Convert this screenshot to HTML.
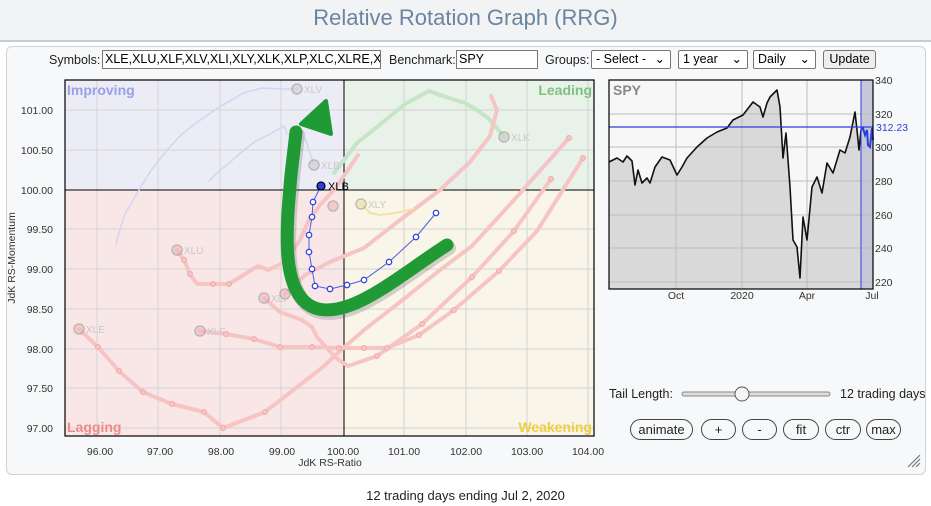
<!DOCTYPE html>
<html><head><meta charset="utf-8"><style>
body{margin:0;width:931px;height:506px;background:#fff;font-family:"Liberation Sans",sans-serif;overflow:hidden;position:relative}
.hdr{position:absolute;left:0;top:0;width:931px;height:40px;background:#f1f3f5;border-bottom:2px solid #c5ced6}
.hdr div{position:absolute;left:0;right:0;top:5px;text-align:center;font-size:22px;color:#6a85a0}
.panel{position:absolute;left:6px;top:46px;width:918px;height:427px;background:#f7f8f9;border:1px solid #cfd3d7;border-radius:6px}
.t{position:absolute;font-size:12.5px;color:#222;white-space:nowrap}
.inp{position:absolute;border:1px solid #777;background:#fff;font-size:12.5px;line-height:17px;padding-left:2px;overflow:hidden;white-space:nowrap;box-sizing:border-box;height:19px}
.sel{position:absolute;height:19px;border:1px solid #777;background:#fff;font-size:12.5px;line-height:17px;padding-left:4px;box-sizing:border-box;border-radius:2px}
.btn{position:absolute;height:21px;border:1px solid #444;border-radius:11px;background:#f7f8f9;font-size:13px;text-align:center;line-height:20px;box-sizing:border-box;color:#222}
</style></head><body>
<div class="hdr"><div>Relative Rotation Graph (RRG)</div></div>
<div class="panel"></div>
<div class="t" style="left:49px;top:53px">Symbols:</div>
<div class="inp" style="left:102px;top:50px;width:279px">XLE,XLU,XLF,XLV,XLI,XLY,XLK,XLP,XLC,XLRE,XL</div>
<div class="t" style="left:389px;top:53px">Benchmark:</div>
<div class="inp" style="left:456px;top:50px;width:82px">SPY</div>
<div class="t" style="left:545px;top:53px">Groups:</div>
<div class="sel" style="left:591px;top:50px;width:80px">- Select - <span style="float:right;margin-right:5px">⌄</span></div>
<div class="sel" style="left:678px;top:50px;width:70px">1 year <span style="float:right;margin-right:5px">⌄</span></div>
<div class="sel" style="left:753px;top:50px;width:63px">Daily <span style="float:right;margin-right:5px">⌄</span></div>
<div class="sel" style="left:823px;top:50px;width:53px;background:#eee;border-radius:3px;text-align:center;padding:0">Update</div>

<svg style="position:absolute;left:0;top:0" width="931" height="506">
<rect x="65" y="80" width="279" height="110" fill="#ececf7"/>
<rect x="344" y="80" width="250" height="110" fill="#e8f2e9"/>
<rect x="65" y="190" width="279" height="246" fill="#f9e7e8"/>
<rect x="344" y="190" width="250" height="246" fill="#f9f6e9"/>
<g stroke="#d3d3d3" stroke-width="1">
<line x1="97" y1="80" x2="97" y2="436"/><line x1="158" y1="80" x2="158" y2="436"/><line x1="220" y1="80" x2="220" y2="436"/><line x1="281" y1="80" x2="281" y2="436"/><line x1="404" y1="80" x2="404" y2="436"/><line x1="466" y1="80" x2="466" y2="436"/><line x1="527" y1="80" x2="527" y2="436"/><line x1="588" y1="80" x2="588" y2="436"/>
<line x1="65" y1="110" x2="594" y2="110"/><line x1="65" y1="150" x2="594" y2="150"/><line x1="65" y1="229" x2="594" y2="229"/><line x1="65" y1="269" x2="594" y2="269"/><line x1="65" y1="309" x2="594" y2="309"/><line x1="65" y1="349" x2="594" y2="349"/><line x1="65" y1="388" x2="594" y2="388"/><line x1="65" y1="428" x2="594" y2="428"/>
</g>
<line x1="344" y1="80" x2="344" y2="436" stroke="#000"/>
<line x1="65" y1="190" x2="594" y2="190" stroke="#000"/>
<rect x="65" y="80" width="529" height="356" fill="none" stroke="#000" stroke-width="1.2"/>
<g font-size="14" font-weight="bold">
<text x="67" y="95" fill="#9aa0e6">Improving</text>
<text x="592" y="95" fill="#7cc27e" text-anchor="end">Leading</text>
<text x="67" y="432" fill="#f08a8a">Lagging</text>
<text x="592" y="432" fill="#f0cc40" text-anchor="end">Weakening</text>
</g>
<g font-size="10.5" fill="#333" text-anchor="end">
<text x="53" y="114">101.00</text><text x="53" y="154">100.50</text><text x="53" y="194">100.00</text><text x="53" y="233">99.50</text><text x="53" y="273">99.00</text><text x="53" y="313">98.50</text><text x="53" y="353">98.00</text><text x="53" y="392">97.50</text><text x="53" y="432">97.00</text>
</g>
<g font-size="10.5" fill="#333" text-anchor="middle">
<text x="100" y="455">96.00</text><text x="160" y="455">97.00</text><text x="221" y="455">98.00</text><text x="282" y="455">99.00</text><text x="343" y="455">100.00</text><text x="404" y="455">101.00</text><text x="466" y="455">102.00</text><text x="527" y="455">103.00</text><text x="588" y="455">104.00</text>
<text x="330" y="466">JdK RS-Ratio</text>
</g>
<text x="0" y="0" font-size="10.5" fill="#333" text-anchor="middle" transform="translate(15,258) rotate(-90)">JdK RS-Momentum</text>

<g fill="none" stroke-linecap="round" stroke-linejoin="round">
<polyline stroke="#d4d4f2" stroke-width="1.5" points="116,244 120,229 125,214 139,190 150,172 167,150 181,135 196,123 218,108 243,93 262,88 280,89 297,89"/>
<polyline stroke="#d4d4f2" stroke-width="1.5" points="209,181 217,173 229,163 244,150 256,141 268,135 284,126 287,134 296,136 305,138 314,165"/>
<polyline stroke="#c6e4c6" stroke-width="4" points="334,173 357,143 377,127 405,104 429,91 440,95 452,99 465,103 477,110 488,118 496,127 504,137"/>
<g stroke="#f7c4c4" stroke-width="4">
<polyline points="79,329 98,347 119,371 143,392 172,404 204,412 223,428 265,412 323,367 341,350 364,330 400,302 440,270 472,246 514,200 569,138"/>
<polyline points="200,331 226,334 254,339 280,347 312,347 339,348 364,348 387,348 419,335 454,310 499,271 537,231 583,158"/>
<polyline points="264,298 280,312 302,320 312,327 317,337 336,358 348,366 377,356 422,324 472,277 514,231 551,179"/>
<polyline points="177,250 184,260 190,274 197,284 213,284 229,284 258,266 268,270 285,262 300,240 309,220 320,205 334,190 348,170 358,155"/>
<polyline points="285,294 305,275 330,262 364,248 400,220 440,190 470,162 490,136 497,110 491,96"/>
</g>
<polyline stroke="#f3e3a0" stroke-width="2" points="361,204 370,213 380,215 395,213 413,209"/>
</g>
<g fill="none" stroke="#f3a8a8" stroke-width="1">
<circle cx="98" cy="347" r="2.5"/><circle cx="119" cy="371" r="2.5"/><circle cx="143" cy="392" r="2.5"/><circle cx="172" cy="404" r="2.5"/><circle cx="204" cy="412" r="2.5"/><circle cx="223" cy="428" r="2.5"/><circle cx="265" cy="412" r="2.5"/><circle cx="226" cy="334" r="2.5"/><circle cx="254" cy="339" r="2.5"/><circle cx="280" cy="347" r="2.5"/><circle cx="312" cy="347" r="2.5"/><circle cx="339" cy="348" r="2.5"/><circle cx="364" cy="348" r="2.5"/><circle cx="387" cy="348" r="2.5"/><circle cx="419" cy="335" r="2.5"/><circle cx="454" cy="310" r="2.5"/><circle cx="499" cy="271" r="2.5"/><circle cx="184" cy="260" r="2.5"/><circle cx="190" cy="274" r="2.5"/><circle cx="213" cy="284" r="2.5"/><circle cx="229" cy="284" r="2.5"/><circle cx="377" cy="356" r="2.5"/><circle cx="422" cy="324" r="2.5"/><circle cx="472" cy="277" r="2.5"/><circle cx="514" cy="231" r="2.5"/><circle cx="551" cy="179" r="2.5"/><circle cx="569" cy="138" r="2.5"/><circle cx="583" cy="158" r="2.5"/>
</g>
<g fill="none" stroke="#999" stroke-width="1.5" opacity="0.6">
<circle cx="297" cy="89" r="5" fill="#ccc"/><circle cx="314" cy="165" r="5" fill="#ccc"/><circle cx="504" cy="137" r="5" fill="#ccc"/>
<circle cx="79" cy="329" r="5" fill="#f3b8b8"/><circle cx="200" cy="331" r="5" fill="#f3b8b8"/><circle cx="177" cy="250" r="5" fill="#f3b8b8"/><circle cx="264" cy="298" r="5" fill="#f3b8b8"/><circle cx="285" cy="294" r="5" fill="#f3b8b8"/><circle cx="333" cy="206" r="5" fill="#f3b8b8"/><circle cx="361" cy="204" r="5" fill="#f0e0a0"/>
</g>
<g font-size="10" fill="#c8c8c8">
<text x="304" y="93">XLV</text><text x="321" y="169">XLB</text><text x="511" y="141">XLK</text><text x="86" y="333">XLE</text><text x="207" y="335">XLF</text><text x="184" y="254">XLU</text><text x="271" y="302">XLI</text><text x="292" y="298">RE</text><text x="368" y="208">XLY</text>
</g>
<polyline fill="none" stroke="#4a5de0" stroke-width="1" points="321,186 313,202 312,217 309,235 309,252 312,269 315,286 330,289 347,285 364,280 389,262 416,237 436,213"/>
<g fill="#fff" stroke="#3346e0" stroke-width="1.3">
<circle cx="313" cy="202" r="2.7"/><circle cx="312" cy="217" r="2.7"/><circle cx="309" cy="235" r="2.7"/><circle cx="309" cy="252" r="2.7"/><circle cx="312" cy="269" r="2.7"/><circle cx="315" cy="286" r="2.7"/><circle cx="330" cy="289" r="2.7"/><circle cx="347" cy="285" r="2.7"/><circle cx="364" cy="280" r="2.7"/><circle cx="389" cy="262" r="2.7"/><circle cx="416" cy="237" r="2.7"/><circle cx="436" cy="213" r="2.7"/>
</g>
<circle cx="321" cy="186" r="4" fill="#2b3ee0" stroke="#000" stroke-width="1.2"/>
<text x="328" y="190" font-size="11" fill="#000">XLB</text>
<path d="M447,245 C400,275 350,320 315,308 C280,295 286,230 291,175 L296,132" fill="none" stroke="#5a5a5a" stroke-opacity="0.25" stroke-width="14" stroke-linecap="round" transform="translate(2,3)"/>
<path d="M447,245 C400,275 350,320 315,308 C280,295 286,230 291,175 L296,132" fill="none" stroke="#1f9a35" stroke-width="13" stroke-linecap="round"/>
<polygon points="326,101 301,124 331,134" fill="#1f9a35" stroke="#1f9a35" stroke-width="4" stroke-linejoin="round"/>

<rect x="609" y="80" width="252" height="209" fill="#f7f7f7"/>
<path d="M609,162 L617,158 623,162 627,156 632,161 635,185 638,170 642,183 647,178 650,183 655,167 662,157 670,160 677,175 682,167 687,158 697,147 707,138 717,132 727,128 733,120 743,115 753,102 760,107 763,117 767,103 770,97 777,90 780,107 783,158 786,133 790,187 793,240 797,247 800,278 803,217 807,240 812,187 817,177 822,193 827,163 833,173 840,150 845,153 850,137 855,112 857,130 859,150 863,130 868,133 870,147 873,130 L873,289 L609,289 Z" fill="#d9d9d9"/>
<rect x="861" y="80" width="12" height="209" fill="#c6c8d8"/>
<g stroke="#bdbdbd" stroke-width="1">
<line x1="676" y1="80" x2="676" y2="289"/><line x1="742" y1="80" x2="742" y2="289"/><line x1="807" y1="80" x2="807" y2="289"/>
<line x1="609" y1="114" x2="873" y2="114"/><line x1="609" y1="147" x2="873" y2="147"/><line x1="609" y1="181" x2="873" y2="181"/><line x1="609" y1="215" x2="873" y2="215"/><line x1="609" y1="248" x2="873" y2="248"/><line x1="609" y1="282" x2="873" y2="282"/>
</g>
<polyline fill="none" stroke="#111" stroke-width="1.6" stroke-linejoin="round" points="609,162 617,158 623,162 627,156 632,161 635,185 638,170 642,183 647,178 650,183 655,167 662,157 670,160 677,175 682,167 687,158 697,147 707,138 717,132 727,128 733,120 743,115 753,102 760,107 763,117 767,103 770,97 777,90 780,107 783,158 786,133 790,187 793,240 797,247 800,278 803,217 807,240 812,187 817,177 822,193 827,163 833,173 840,150 845,153 850,137 855,112 857,130 859,150 861,130"/>
<polyline fill="none" stroke="#2b3ee0" stroke-width="2" points="861,130 863,128 865,135 867,130 868,145 870,147 872,128 873,140"/>
<line x1="609" y1="127" x2="873" y2="127" stroke="#2b3ee0" stroke-width="1.2"/>
<line x1="861" y1="80" x2="861" y2="289" stroke="#2b3ee0" stroke-width="1"/>
<rect x="609" y="80" width="264" height="209" fill="none" stroke="#000" stroke-width="1.2"/>
<text x="613" y="95" font-size="14" font-weight="bold" fill="#888">SPY</text>
<g font-size="10.5" fill="#333">
<text x="875" y="84">340</text><text x="875" y="118">320</text><text x="875" y="151">300</text><text x="875" y="185">280</text><text x="875" y="219">260</text><text x="875" y="252">240</text><text x="875" y="286">220</text>
<text x="876" y="131" fill="#2b3ee0">312.23</text>
</g>
<g font-size="10.5" fill="#333" text-anchor="middle">
<text x="676" y="299">Oct</text><text x="742" y="299">2020</text><text x="807" y="299">Apr</text><text x="872" y="299">Jul</text>
</g>
<rect x="682" y="392" width="148" height="4" rx="2" fill="#ddd" stroke="#888"/>
<circle cx="742" cy="394" r="7" fill="#f5f5f5" stroke="#555"/>
<g stroke="#777" stroke-width="1.2"><line x1="908" y1="467" x2="920" y2="455"/><line x1="912" y1="467" x2="920" y2="459"/><line x1="916" y1="467" x2="920" y2="463"/></g>
</svg>
<div class="t" style="left:609px;top:387px">Tail Length:</div>
<div class="t" style="left:840px;top:387px">12 trading days</div>
<div class="btn" style="left:630px;top:419px;width:63px">animate</div>
<div class="btn" style="left:701px;top:419px;width:35px">+</div>
<div class="btn" style="left:742px;top:419px;width:35px">-</div>
<div class="btn" style="left:783px;top:419px;width:36px">fit</div>
<div class="btn" style="left:825px;top:419px;width:36px">ctr</div>
<div class="btn" style="left:866px;top:419px;width:35px">max</div>
<div class="t" style="left:0;width:931px;text-align:center;top:488px;font-size:13px">12 trading days ending Jul 2, 2020</div>
</body></html>
